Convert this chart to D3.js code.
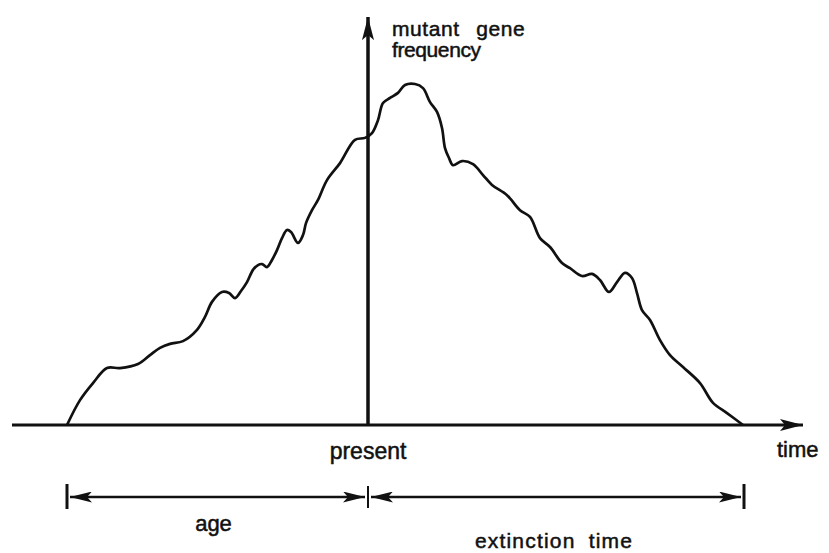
<!DOCTYPE html>
<html>
<head>
<meta charset="utf-8">
<script src="https://cdn.jsdelivr.net/npm/d3@7"></script>
<style>
  html, body { margin: 0; padding: 0; background: #fff; }
  svg { display: block; }
  text { font-family: "Liberation Sans", Arial, sans-serif; fill: #111; stroke: #111; stroke-width: 0.5px; }
</style>
</head>
<body>
<div id="chart"></div>
<script>
// time relative to the present (0); frequency as % of the peak
const times = [-30.1, -28.8, -27.5, -26.1, -24.8, -23.0, -21.8, -20.8, -19.8, -18.5,
  -17.1, -16.3, -15.6, -14.6, -13.9, -13.3, -12.7, -12.1, -11.5, -11.0, -10.6, -10.1,
  -9.6, -9.1, -8.6, -8.1, -7.7, -7.0, -6.5, -6.2, -5.6, -5.0, -4.1, -2.8, -1.3, -0.3,
  0.4, 1.0, 1.5, 2.2, 3.0, 3.7, 4.7, 5.5, 6.2, 6.9, 7.4, 7.7, 8.1, 8.5, 9.4, 10.5,
  11.5, 12.4, 13.9, 15.2, 16.2, 17.2, 18.2, 19.4, 20.2, 21.4, 22.4, 23.2, 24.1, 24.9,
  25.7, 26.4, 26.9, 27.4, 28.2, 29.2, 30.2, 31.5, 33.2, 34.5, 35.9, 37.5]
const freqs = [0, 7.3, 12.3, 16.7, 16.7, 17.9, 20.5, 22.6, 23.8, 24.6,
  27.9, 31.7, 36.1, 39.0, 38.7, 37.2, 39.3, 41.9, 45.5, 46.9, 47.2, 46.3,
  48.4, 51.3, 54.8, 57.2, 56.6, 53.4, 55.7, 59.2, 63.0, 66.0, 71.8, 76.8, 83.6, 84.2,
  85.6, 89.4, 94.4, 95.9, 97.4, 99.7, 100, 98.8, 94.7, 91.8, 87.1, 81.2, 78.3, 76.2, 77.4, 76.5,
  73.3, 70.4, 67.4, 63.0, 61.0, 54.8, 52.2, 47.5, 46.0, 43.7, 44.3, 42.5, 39.0, 41.9,
  44.6, 43.1, 38.7, 33.7, 30.8, 24.9, 20.5, 17.0, 12.3, 6.5, 3.5, 0]

// span markers: origin of the mutant, present, extinction
const spanTimes = [-30.1, 0, 37.6]
const spanLabels = ["age", "extinction time"]

const width = 829
const height = 553

const svg = d3.select("#chart")
  .append("svg")
  .attr("width", width)
  .attr("height", height)

const x = d3.scaleLinear().domain([-35.6, 43.7]).range([12, 805])
const y = d3.scaleLinear().domain([0, 100]).range([425, 84])
const yTop = 120.2

// arrowheads
const defs = svg.append("defs")
function marker(id, len, half) {
  defs.append("marker")
    .attr("id", id)
    .attr("markerUnits", "userSpaceOnUse")
    .attr("viewBox", `${-len} ${-half} ${len} ${half * 2}`)
    .attr("refX", 0)
    .attr("refY", 0)
    .attr("markerWidth", len)
    .attr("markerHeight", half * 2)
    .attr("orient", "auto-start-reverse")
    .append("path")
    .attr("d", `M0,0 L${-len},${-half} L${-len + 5},0 L${-len},${half} Z`)
    .attr("fill", "#111")
}
marker("axisHead", 23, 6)
marker("spanHead", 22, 5.5)

// axes
svg.append("line")
  .attr("x1", x.range()[0]).attr("y1", y(0))
  .attr("x2", x.range()[1] - 2).attr("y2", y(0))
  .attr("stroke", "#111")
  .attr("stroke-width", 3)
  .attr("marker-end", "url(#axisHead)")

svg.append("line")
  .attr("x1", x(0)).attr("y1", y(0) + 1)
  .attr("x2", x(0)).attr("y2", y(yTop) + 2)
  .attr("stroke", "#111")
  .attr("stroke-width", 3.5)
  .attr("marker-end", "url(#axisHead)")

// frequency trajectory
const points = times.map((t, i) => [t, freqs[i]])
const line = d3.line()
  .x(d => x(d[0]))
  .y(d => y(d[1]))
  .curve(d3.curveCatmullRom.alpha(0.5))

svg.append("path")
  .datum(points)
  .attr("d", line)
  .attr("fill", "none")
  .attr("stroke", "#111")
  .attr("stroke-width", 2.7)
  .attr("stroke-linejoin", "round")

// age / extinction time spans
const spanY = 497
svg.selectAll(".tick")
  .data(spanTimes)
  .enter()
  .append("line")
  .attr("class", "tick")
  .attr("x1", d => x(d)).attr("x2", d => x(d))
  .attr("y1", (d, i) => i === 1 ? spanY - 11 : spanY - 13)
  .attr("y2", (d, i) => i === 1 ? spanY + 11 : spanY + 12)
  .attr("stroke", "#111")
  .attr("stroke-width", (d, i) => i === 1 ? 2 : 3)

const spans = d3.pairs(spanTimes)
svg.selectAll(".span")
  .data(spans)
  .enter()
  .append("line")
  .attr("class", "span")
  .attr("x1", d => x(d[0]) + 3)
  .attr("x2", d => x(d[1]) - 3)
  .attr("y1", spanY).attr("y2", spanY)
  .attr("stroke", "#111")
  .attr("stroke-width", 2.6)
  .attr("marker-start", "url(#spanHead)")
  .attr("marker-end", "url(#spanHead)")

svg.append("text")
  .attr("x", (x(spans[0][0]) + x(spans[0][1])) / 2 - 4)
  .attr("y", 531)
  .attr("text-anchor", "middle")
  .style("font-size", "22px")
  .text(spanLabels[0])

svg.append("text")
  .attr("x", (x(spans[1][0]) + x(spans[1][1])) / 2 - 2)
  .attr("y", 548)
  .attr("text-anchor", "middle")
  .style("font-size", "21px")
  .style("letter-spacing", "1.2px")
  .style("word-spacing", "6px")
  .text(spanLabels[1])

// axis labels
svg.append("text")
  .attr("x", x(0))
  .attr("y", 459)
  .attr("text-anchor", "middle")
  .style("font-size", "23px")
  .text("present")

svg.append("text")
  .attr("x", 777)
  .attr("y", 457)
  .style("font-size", "22px")
  .text("time")

const yLabel = svg.append("text")
  .attr("x", 392)
  .attr("y", 36)
  .style("font-size", "21px")
yLabel.append("tspan")
  .style("word-spacing", "10px")
  .style("letter-spacing", "0.6px")
  .text("mutant gene")
yLabel.append("tspan")
  .attr("x", 392)
  .attr("dy", 21)
  .style("letter-spacing", "-0.4px")
  .text("frequency")
</script>
</body>
</html>
